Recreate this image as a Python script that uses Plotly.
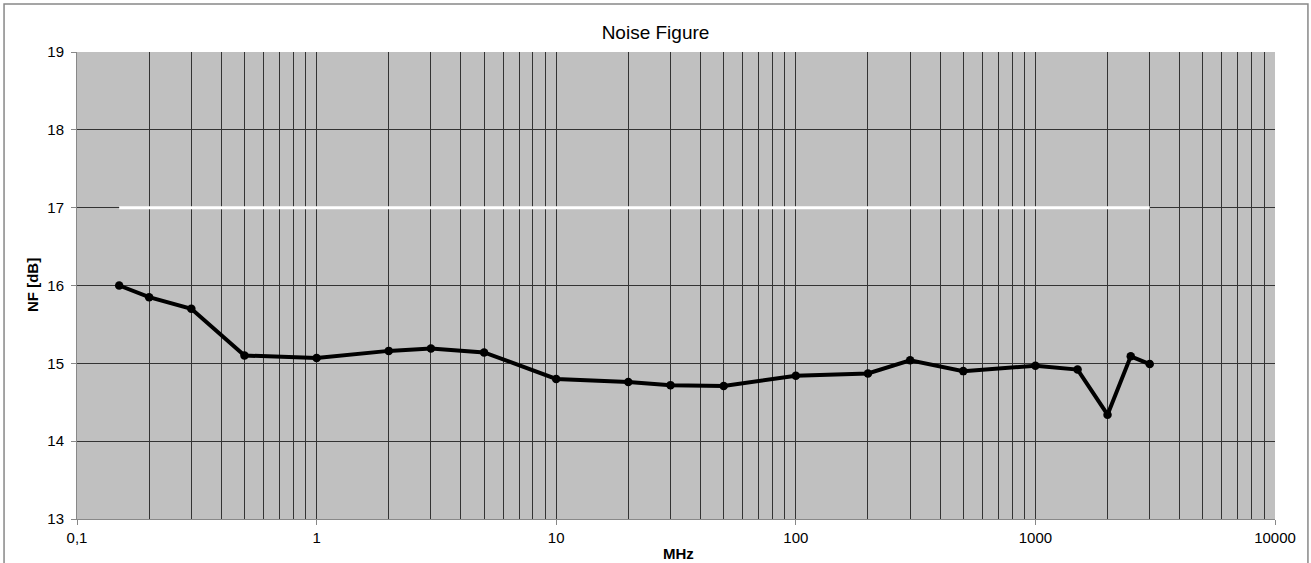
import plotly.graph_objects as go

freq_mhz = [0.15, 0.2, 0.3, 0.5, 1, 2, 3, 5, 10, 20, 30, 50, 100, 200, 300, 500, 1000, 1500, 2000, 2500, 3000]
nf_db = [16.0, 15.85, 15.70, 15.10, 15.07, 15.16, 15.19, 15.14, 14.80, 14.76, 14.72, 14.71, 14.84, 14.87, 15.04, 14.90, 14.97, 14.92, 14.34, 15.09, 14.99]

limit_x = [0.15, 3000]
limit_y = [17, 17]

x_tick_vals = [0.1, 1, 10, 100, 1000, 10000]
x_tick_text = ["0,1", "1", "10", "100", "1000", "10000"]
y_tick_vals = [13, 14, 15, 16, 17, 18, 19]

minor_vals = [m * d for d in [0.1, 1, 10, 100, 1000] for m in range(2, 10)]

fig = go.Figure()
fig.add_trace(go.Scatter(x=limit_x, y=limit_y, mode="lines",
                         line=dict(color="white", width=3), showlegend=False))
fig.add_trace(go.Scatter(x=freq_mhz, y=nf_db, mode="lines+markers",
                         line=dict(color="black", width=4),
                         marker=dict(color="black", size=8.5), showlegend=False))

font = "Liberation Sans, Arial, sans-serif"
fig.update_layout(
    width=1311, height=563,
    margin=dict(l=77, r=36, t=52, b=44),
    paper_bgcolor="white", plot_bgcolor="#c0c0c0",
    font=dict(family=font, size=15, color="black"),
    title=dict(text="Noise Figure", x=0.5, xanchor="center", y=1 - 32 / 563, yanchor="middle",
               font=dict(size=19, family=font)),
    xaxis=dict(type="log", range=[-1, 4], tickvals=x_tick_vals, ticktext=x_tick_text,
               showgrid=True, gridcolor="#333333", gridwidth=1,
               ticks="outside", ticklen=5, tickcolor="#888888",
               minor=dict(tickvals=minor_vals, showgrid=True, gridcolor="#333333", gridwidth=1, ticks=""),
               showline=True, linecolor="#888888", linewidth=1,
               zeroline=False),
    yaxis=dict(range=[13, 19], tickvals=y_tick_vals,
               showgrid=True, gridcolor="#333333", gridwidth=1,
               ticks="outside", ticklen=5, tickcolor="#888888",
               showline=True, linecolor="#888888", linewidth=1,
               ticklabelstandoff=4,
               zeroline=False),
)

fig.add_annotation(text="<b>MHz</b>", xref="paper", yref="paper", x=(678 - 77) / 1198,
                   y=(519 - 553) / 467, xanchor="center", yanchor="middle", showarrow=False,
                   font=dict(size=15, family=font))
fig.add_annotation(text="<b>NF [dB]</b>", xref="paper", yref="paper", x=(32 - 77) / 1198,
                   y=(519 - 285) / 467, xanchor="center", yanchor="middle", showarrow=False,
                   textangle=-90, font=dict(size=15, family=font))

fig.add_shape(type="rect", xref="paper", yref="paper",
              x0=-0.0609, x1=1.0275, y0=-0.0985, y1=1.1028,
              line=dict(color="#888888", width=1.5), layer="below")

fig.write_html("out.html", config={"displayModeBar": False},
               post_script="document.body.style.margin='0';document.body.style.overflow='hidden';")
